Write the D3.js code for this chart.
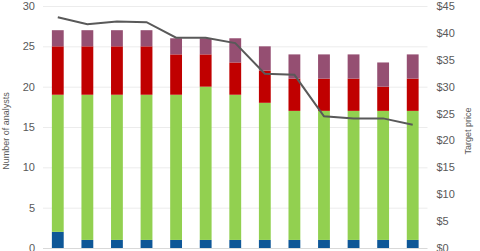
<!DOCTYPE html>
<html>
<head>
<meta charset="utf-8">
<script src="https://cdn.jsdelivr.net/npm/d3@7"></script>
<style>
  body { margin: 0; background: #fff; }
  svg { display: block; font-family: "Liberation Sans", Arial, sans-serif; }
</style>
</head>
<body>
<div id="chart"></div>
<script>
// Analyst ratings per period (13 periods)
const periods = ['P1', 'P2', 'P3', 'P4', 'P5', 'P6', 'P7', 'P8', 'P9', 'P10', 'P11', 'P12', 'P13'];
const strongBuy = [2, 1, 1, 1, 1, 1, 1, 1, 1, 1, 1, 1, 1];
const buy       = [17, 18, 18, 18, 18, 19, 18, 17, 16, 16, 16, 16, 16];
const hold      = [6, 6, 6, 6, 5, 4, 4, 4, 4, 4, 4, 3, 4];
const sell      = [2, 2, 2, 2, 2, 2, 3, 3, 3, 3, 3, 3, 3];
const targetPrice = [42.9, 41.6, 42.1, 42.0, 39.1, 39.1, 38.1, 32.4, 32.2, 24.5, 24.1, 24.1, 22.9];

const leftTicks = [0, 5, 10, 15, 20, 25, 30];
const rightTicks = [0, 5, 10, 15, 20, 25, 30, 35, 40, 45];

const seriesKeys = ['strongBuy', 'buy', 'hold', 'sell'];
const colors = { strongBuy: '#0e5797', buy: '#92d050', hold: '#c00000', sell: '#954f72' };

const W = 480, H = 251;
const plot = { left: 43, right: 427.5, top: 6, bottom: 248 };

const svg = d3.select('#chart').append('svg')
  .attr('width', W)
  .attr('height', H);

const x = d3.scaleBand()
  .domain(periods)
  .range([plot.left, plot.right])
  .paddingInner(0.6)
  .paddingOuter(0.3);

const y = d3.scaleLinear().domain([0, 30]).range([plot.bottom, plot.top]);
const y2 = d3.scaleLinear().domain([0, 45]).range([plot.bottom, plot.top]);

// Gridlines
svg.append('g')
  .selectAll('line')
  .data(leftTicks.slice(1))
  .enter()
  .append('line')
  .attr('x1', plot.left)
  .attr('x2', plot.right)
  .attr('y1', d => y(d) + 0.5)
  .attr('y2', d => y(d) + 0.5)
  .attr('stroke', '#ececec')
  .attr('stroke-width', 1);

// Left axis
const leftAxis = svg.append('g')
  .attr('transform', `translate(${plot.left},0)`)
  .call(d3.axisLeft(y).tickValues(leftTicks).tickSize(0).tickPadding(8));
leftAxis.select('.domain').remove();
leftAxis.selectAll('text')
  .attr('fill', '#595959')
  .style('font-size', '11px');

// Right axis
const rightAxis = svg.append('g')
  .attr('transform', `translate(${plot.right},0)`)
  .call(d3.axisRight(y2).tickValues(rightTicks).tickSize(0).tickPadding(9)
    .tickFormat(d => '$' + d));
rightAxis.select('.domain').remove();
rightAxis.selectAll('text')
  .attr('fill', '#595959')
  .style('font-size', '11px');

// Stacked bars
const table = periods.map((p, i) => ({
  period: p,
  strongBuy: strongBuy[i],
  buy: buy[i],
  hold: hold[i],
  sell: sell[i]
}));
const stacked = d3.stack().keys(seriesKeys)(table);

svg.append('g')
  .selectAll('g')
  .data(stacked)
  .enter()
  .append('g')
  .attr('fill', d => colors[d.key])
  .selectAll('rect')
  .data(d => d)
  .enter()
  .append('rect')
  .attr('x', d => x(d.data.period))
  .attr('width', x.bandwidth())
  .attr('y', d => y(d[1]))
  .attr('height', d => y(d[0]) - y(d[1]));

// Baseline
svg.append('line')
  .attr('x1', plot.left)
  .attr('x2', plot.right)
  .attr('y1', y(0) + 0.5)
  .attr('y2', y(0) + 0.5)
  .attr('stroke', '#d9d9d9');

// Target price line
const line = d3.line()
  .x((d, i) => x(periods[i]) + x.bandwidth() / 2)
  .y(d => y2(d));

svg.append('path')
  .datum(targetPrice)
  .attr('d', line)
  .attr('fill', 'none')
  .attr('stroke', '#595959')
  .attr('stroke-width', 2);

// Axis labels
svg.append('text')
  .attr('transform', `translate(9,${(plot.top + plot.bottom) / 2 + 4}) rotate(-90)`)
  .attr('text-anchor', 'middle')
  .attr('fill', '#595959')
  .style('font-size', '9px')
  .text('Number of analysts');

svg.append('text')
  .attr('transform', `translate(471,${(plot.top + plot.bottom) / 2 + 4}) rotate(-90)`)
  .attr('text-anchor', 'middle')
  .attr('fill', '#595959')
  .style('font-size', '9px')
  .text('Target price');
</script>
</body>
</html>
